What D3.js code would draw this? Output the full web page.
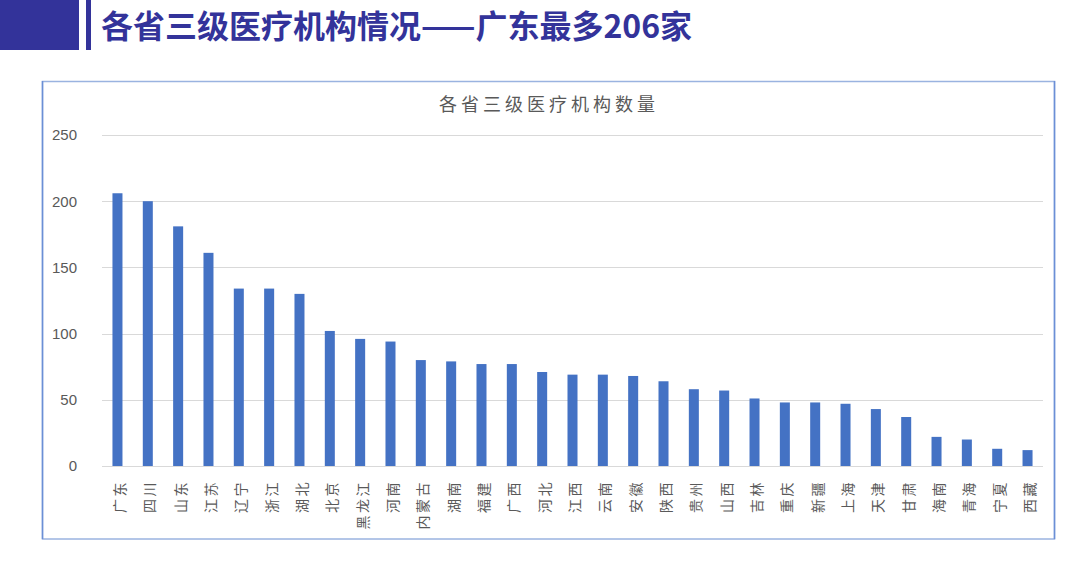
<!DOCTYPE html>
<html><head><meta charset="utf-8">
<script src="https://cdn.jsdelivr.net/npm/d3@7/dist/d3.min.js"></script>
<style>
html,body{margin:0;padding:0;background:#fff;}
svg{display:block;}
</style></head>
<body>
<svg id="c" width="1080" height="563"></svg>
<script>
const provinces = ["广东","四川","山东","江苏","辽宁","浙江","湖北","北京","黑龙江","河南","内蒙古","湖南","福建","广西","河北","江西","云南","安徽","陕西","贵州","山西","吉林","重庆","新疆","上海","天津","甘肃","海南","青海","宁夏","西藏"];
const counts = [206,200,181,161,134,134,130,102,96,94,80,79,77,77,71,69,69,68,64,58,57,51,48,48,47,43,37,22,20,13,12];
const yTicks = [0,50,100,150,200,250];
const pageTitle = "各省三级医疗机构情况——广东最多206家";
const chartTitle = "各省三级医疗机构数量";

const svg = d3.select("#c");

// header decoration
svg.append("rect").attr("x",0).attr("y",0).attr("width",79).attr("height",50).attr("fill","#33339a");
svg.append("rect").attr("x",86).attr("y",0).attr("width",5).attr("height",50).attr("fill","#33339a");
svg.append("text").attr("x",101).attr("y",37.5)
  .attr("font-family","'Noto Sans CJK SC','Noto Sans',sans-serif")
  .attr("font-weight","bold").attr("font-size",32).attr("fill","#33339a")
  .text(pageTitle);

// frame
svg.append("rect").attr("x",42.5).attr("y",81.5).attr("width",1012).attr("height",457.5)
  .attr("fill","#fff").attr("stroke","#9ab3e0").attr("stroke-width",1.5);
svg.append("line").attr("x1",42.5).attr("x2",42.5).attr("y1",81).attr("y2",539).attr("stroke","#6b8fd6").attr("stroke-width",1.5);
svg.append("line").attr("x1",1054.5).attr("x2",1054.5).attr("y1",81).attr("y2",539).attr("stroke","#6b8fd6").attr("stroke-width",1.5);

// chart title
svg.append("text").attr("x",549).attr("y",111).attr("text-anchor","middle")
  .attr("font-family","'Noto Sans CJK SC',sans-serif").attr("font-size",18)
  .attr("letter-spacing",4).attr("fill","#595959").text(chartTitle);

const x = d3.scaleBand().domain(provinces).range([102.3,1042.7]).paddingInner(0.67).paddingOuter(0.335);
const y = d3.scaleLinear().domain([0,250]).range([466,135]);

// gridlines
svg.append("g").selectAll("line").data(yTicks).join("line")
  .attr("x1",102).attr("x2",1043)
  .attr("y1",d=>Math.round(y(d))+0.5).attr("y2",d=>Math.round(y(d))+0.5)
  .attr("stroke","#d9d9d9").attr("stroke-width",1);

// y axis labels
const yAxis = d3.axisLeft(y).tickValues(yTicks).tickSize(0).tickPadding(0);
const ga = svg.append("g").attr("transform","translate(77,0)").call(yAxis);
ga.select(".domain").remove();
ga.selectAll("text").attr("font-family","'Liberation Sans',Arial,sans-serif")
  .attr("font-size",15).attr("fill","#595959");

// bars
svg.append("g").selectAll("rect").data(counts).join("rect")
  .attr("x",(d,i)=>x(provinces[i]))
  .attr("width",x.bandwidth())
  .attr("y",d=>y(d))
  .attr("height",d=>y(0)-y(d))
  .attr("fill","#4472c4");

// x labels (vertical)
svg.append("g").selectAll("text").data(provinces).join("text")
  .attr("transform",d=>`translate(${x(d)+x.bandwidth()/2+1.5},480) rotate(-90)`)
  .attr("text-anchor","end").attr("dominant-baseline","central")
  .attr("font-family","'Noto Sans CJK SC',sans-serif").attr("font-size",14)
  .attr("letter-spacing",2.5).attr("fill","#595959")
  .text(d=>d);
</script>
</body></html>
